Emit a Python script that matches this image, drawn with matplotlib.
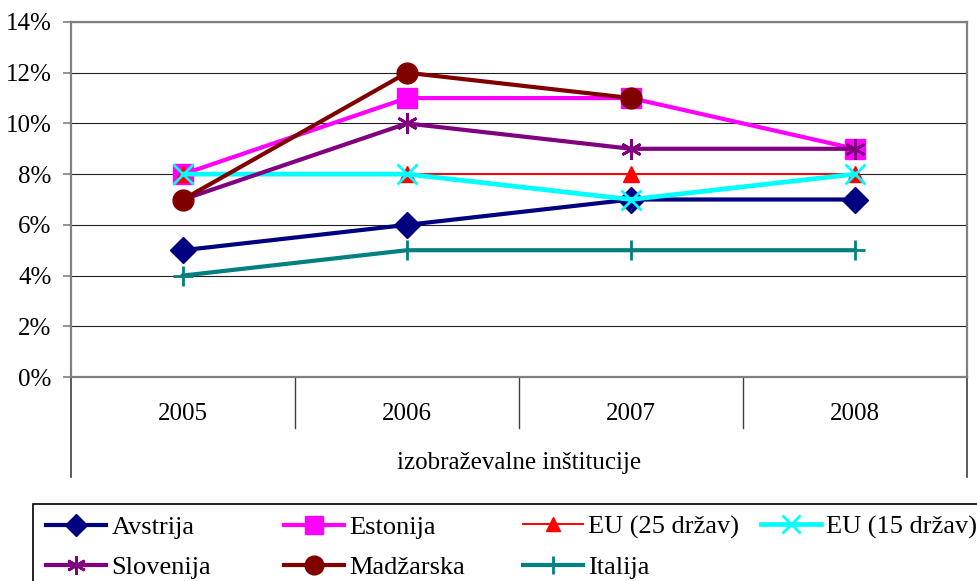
import numpy as np
import matplotlib.pyplot as plt
from matplotlib.patches import Rectangle

plt.rcParams['font.family'] = ['Liberation Serif', 'DejaVu Serif']

# data (percent)
years = ['2005', '2006', '2007', '2008']
avstrija = [5, 6, 7, 7]
estonija = [8, 11, 11, 9]
eu25 = [8, 8, 8, 8]
eu15 = [8, 8, 7, 8]
slovenija = [7, 10, 9, 9]
madzarska = [7, 12, 11, np.nan]
italija = [4, 5, 5, 5]

series = [
    ('Avstrija', avstrija, '#000080', 'D', 13, 3.0),
    ('Estonija', estonija, '#FF00FF', 's', 14, 3.0),
    ('EU (25 držav)', eu25, '#FF0000', '^', 11, 1.4),
    ('EU (15 držav)', eu15, '#00FFFF', 'x', 14, 3.4),
    ('Slovenija', slovenija, '#800080', (6, 2, 0), 15, 3.0),
    ('Madžarska', madzarska, '#800000', 'o', 15, 3.0),
    ('Italija', italija, '#008080', '+', 14, 3.0),
]

fs = 18

fig = plt.figure(figsize=(9.78, 5.81), dpi=100)
ax = fig.add_axes([71/978, 1 - 377/581, 896/978, 355/581])

x = np.arange(len(years))
lines = []
for name, vals, col, mk, ms, lw in series:
    if mk in ('x', '+') or isinstance(mk, tuple):
        ln, = ax.plot(x, vals, color=col, lw=lw, marker=mk, ms=ms, mew=2.0,
                      label=name, clip_on=False)
    else:
        ln, = ax.plot(x, vals, color=col, lw=lw, marker=mk, ms=ms, mec=col,
                      mfc=col, label=name, clip_on=False)
    lines.append(ln)

ax.set_xlim(-0.5, 3.5)
ax.set_ylim(0, 14)
ax.set_yticks(range(0, 15, 2))
ax.set_yticklabels([f'{v}%' for v in range(0, 15, 2)], fontsize=fs)
ax.yaxis.grid(True, color='#202020', lw=0.8)
ax.set_axisbelow(True)
ax.tick_params(axis='y', length=6, width=1.2, color='#808080', pad=8)

ax.set_xticks(x)
ax.set_xticklabels(years, fontsize=fs)
ax.tick_params(axis='x', length=0, pad=19)
ax.set_xlabel('izobraževalne inštitucije', fontsize=fs, labelpad=19)

for s in ax.spines.values():
    s.set_color('#808080')
    s.set_linewidth(1.6)

# category boxes below the axis
for b in [0.5, 1.5, 2.5]:
    ax.plot([b, b], [0, -51/355], transform=ax.get_xaxis_transform(),
            color='#404040', lw=1, clip_on=False)
for b in [-0.5, 3.5]:
    ax.plot([b, b], [0, -100/355], transform=ax.get_xaxis_transform(),
            color='#404040', lw=1.2, clip_on=False)

# legend box
fig.patches.append(Rectangle((33/978, -0.1), 1.2, 0.1 + (581 - 504)/581,
                             transform=fig.transFigure, fill=False,
                             edgecolor='black', lw=1.2))
col_x = [46, 284, 523, 761]
row_y = [527, 567]
for i, ln in enumerate(lines):
    r, c = divmod(i, 4)
    fig.legend(handles=[ln], labels=[ln.get_label()], loc='center left',
               bbox_to_anchor=(col_x[c]/978, 1 - row_y[r]/581),
               frameon=False, fontsize=19, handlelength=60/26.4,
               handletextpad=0.2, borderpad=0, borderaxespad=0, numpoints=1,
               markerscale=0.9)

fig.savefig('out.png', dpi=100)
